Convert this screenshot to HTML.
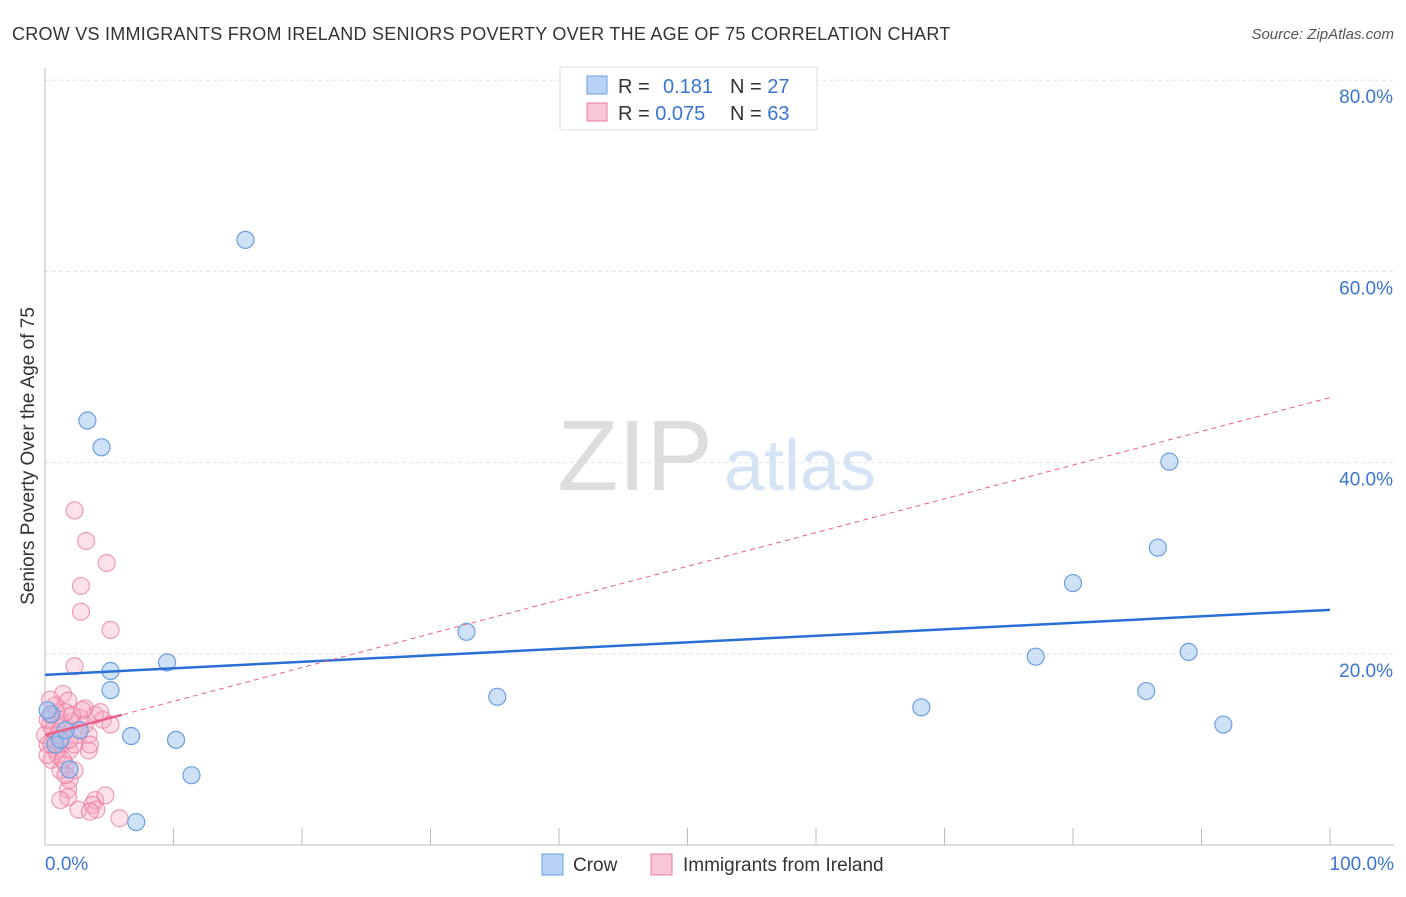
<!DOCTYPE html>
<html><head><meta charset="utf-8"><style>
body{margin:0;background:#fff;font-family:"Liberation Sans",sans-serif;}
svg text{font-family:"Liberation Sans",sans-serif;}
</style></head><body>
<svg id="chart" width="1406" height="892">
<text x="12" y="40" font-size="18" fill="#333" letter-spacing="0.25">CROW VS IMMIGRANTS FROM IRELAND SENIORS POVERTY OVER THE AGE OF 75 CORRELATION CHART</text>
<text x="1394" y="39" font-size="15" fill="#555" font-style="italic" text-anchor="end">Source: ZipAtlas.com</text>
<g><text x="635" y="490" font-size="100" fill="#ddd" font-family="Liberation Serif" text-anchor="middle">ZIP</text><text x="800" y="490" font-size="72" fill="#d5e3f5" text-anchor="middle">atlas</text></g>
<g id="grid"></g><g id="axes"></g>
<text transform="translate(34,456) rotate(-90)" font-size="19" fill="#333" text-anchor="middle">Seniors Poverty Over the Age of 75</text>
<text x="45" y="870" font-size="19" fill="#3a75d0">0.0%</text>
<text x="1394" y="870" font-size="19" fill="#3a75d0" text-anchor="end">100.0%</text>
<g id="pts"></g><g id="lines"></g>
<g>
<rect x="560" y="67" width="257" height="63" fill="#fff" stroke="#ddd"/>
<rect x="587" y="76" width="20" height="18" fill="#b8d3f5" stroke="#6a9fe0"/>
<rect x="587" y="103" width="20" height="18" fill="#f9c6d5" stroke="#e87fa0"/>
<text x="618" y="93" font-size="20" fill="#333">R = </text>
<text x="663" y="93" font-size="20" fill="#3a75d0">0.181</text>
<text x="730" y="93" font-size="20" fill="#333">N = <tspan fill="#3a75d0">27</tspan></text>
<text x="618" y="120" font-size="20" fill="#333">R = <tspan fill="#3a75d0">0.075</tspan></text>
<text x="730" y="120" font-size="20" fill="#333">N = <tspan fill="#3a75d0">63</tspan></text>
</g>
<g>
<rect x="542" y="854" width="21" height="21" fill="#b8d3f5" stroke="#6a9fe0"/>
<text x="573" y="871" font-size="19" fill="#333">Crow</text>
<rect x="651" y="854" width="21" height="21" fill="#f9c6d5" stroke="#e87fa0"/>
<text x="683" y="871" font-size="19" fill="#333">Immigrants from Ireland</text>
</g>
</svg>
<script>
const yTicks=[20,40,60,80];
const yTickLabels=["20.0%","40.0%","60.0%","80.0%"];
const xTicks=[0,10,20,30,40,50,60,70,80,90,100];
const crowX=[15.6,3.3,4.4,32.8,9.5,5.1,5.1,35.2,6.7,10.2,11.4,7.1,87.5,86.6,80.0,77.1,89.0,68.2,85.7,91.7,0.5,2.7,1.9,0.8,0.2,1.2,1.6];
const crowY=[63.3,44.4,41.6,22.3,19.1,18.2,16.2,15.5,11.4,11.0,7.3,2.4,40.1,31.1,27.4,19.7,20.2,14.4,16.1,12.6,13.7,12.0,7.9,10.5,14.1,11.0,12.0];
const irlX=[2.3,3.2,4.8,2.8,2.8,5.1,2.3,1.4,1.8,3.1,3.9,0.9,1.2,0.4,1.6,2.6,3.4,4.5,5.1,0.8,1.3,0.2,1.9,1.0,3.4,0.5,1.6,2.3,1.2,1.9,1.8,1.8,2.6,3.9,4.7,3.7,4.0,3.5,5.8,0.4,0.6,0.9,0,0.2,1.3,2.1,2.7,0.8,1.6,0.4,3.1,2.3,1.4,1.0,0.5,0.2,1.9,3.5,1.6,1.2,2.1,2.9,4.3];
const irlY=[35.0,31.8,29.5,27.1,24.4,22.5,18.7,15.8,15.1,14.3,13.6,13.9,13.1,12.6,12.0,11.5,11.5,13.1,12.6,11.0,10.5,10.5,9.9,9.4,9.9,8.9,8.4,7.8,7.8,6.8,5.8,5.0,3.7,4.7,5.2,4.2,3.7,3.5,2.8,13.6,12.0,9.9,11.5,9.4,12.6,12.9,13.3,14.6,13.9,15.2,12.6,10.5,8.9,11.5,10.5,13.1,11.0,10.5,7.3,4.7,13.6,14.1,13.9];
const crowTrend=[17.8,24.6];
const irlTrend=[11.5,46.8];
const irlSolidEnd=6;
const sx=v=>45+v*12.85, sy=v=>845-v*9.56;
const NS='http://www.w3.org/2000/svg';
function mk(tag,attrs,parent){const e=document.createElementNS(NS,tag);for(const k in attrs)e.setAttribute(k,attrs[k]);document.getElementById(parent).appendChild(e);return e;}
yTicks.forEach((t,i)=>{
 const g=mk('line',{x1:45,x2:1394,y1:sy(t),y2:sy(t),stroke:'#e3e3e3','stroke-dasharray':'4,3'},'grid');
 
 
 const l=mk('text',{x:1393,y:sy(t)+23,'font-size':19,fill:'#3a75d0','text-anchor':'end'},'grid');l.textContent=yTickLabels[i];
 
 
});
const ax=mk('line',{x1:45,x2:45,y1:68,y2:845,stroke:'#bbb'},'axes');


const bx=mk('line',{x1:45,x2:1394,y1:845,y2:845,stroke:'#bbb'},'axes');


xTicks.forEach(t=>{const e=mk('line',{x1:sx(t),x2:sx(t),y1:828,y2:845,stroke:'#bbb'},'axes');
 
 });
irlX.forEach((x,i)=>{const c=mk('circle',{cx:sx(x),cy:sy(irlY[i]),r:8.5,fill:'rgba(248,170,195,0.35)',stroke:'rgba(232,120,155,0.7)','stroke-width':1.2},'pts');
 
 });
crowX.forEach((x,i)=>{const c=mk('circle',{cx:sx(x),cy:sy(crowY[i]),r:8.5,fill:'rgba(160,196,240,0.5)',stroke:'#6a9fe0','stroke-width':1.2},'pts');
 
 });
const ct=mk('line',{x1:sx(0),y1:sy(crowTrend[0]),x2:sx(100),y2:sy(crowTrend[1]),stroke:'#2a6fd6','stroke-width':2.5},'lines');


const it=mk('line',{x1:sx(0),y1:sy(irlTrend[0]),x2:sx(100),y2:sy(irlTrend[1]),stroke:'#e8608a','stroke-width':1,'stroke-dasharray':'5,4'},'lines');


const is=mk('line',{x1:sx(0),y1:sy(irlTrend[0]),x2:sx(irlSolidEnd),y2:sy(irlTrend[0]+(irlTrend[1]-irlTrend[0])*irlSolidEnd/100),stroke:'#e8608a','stroke-width':2.5},'lines');


</script>
</body></html>
